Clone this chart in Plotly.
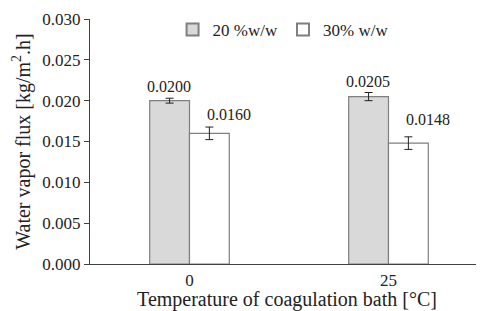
import plotly.graph_objects as go

categories = ["0", "25"]
series_names = ["20 %w/w", "30% w/w"]
values_20 = [0.0200, 0.0205]
values_30 = [0.0160, 0.0148]
errors_20 = [0.0003, 0.0005]
errors_30 = [0.00077, 0.00077]
label_20 = ["0.0200", "0.0205"]
label_30 = ["0.0160", "0.0148"]
y_ticks = [0.000, 0.005, 0.010, 0.015, 0.020, 0.025, 0.030]

FONT = "Liberation Serif, Times New Roman, serif"
TXT = "#222222"

fig = go.Figure()
fig.add_trace(go.Bar(
    x=categories, y=values_20, name=series_names[0],
    marker=dict(color="#d9d9d9", line=dict(color="#7f7f7f", width=1.2)),
    error_y=dict(type="data", array=errors_20, color=TXT, thickness=1, width=4),
))
fig.add_trace(go.Bar(
    x=categories, y=values_30, name=series_names[1],
    marker=dict(color="#ffffff", line=dict(color="#7f7f7f", width=1.2)),
    error_y=dict(type="data", array=errors_30, color=TXT, thickness=1, width=4),
))

label30_yshift = [2, 7]
annotations = []
for i, c in enumerate(categories):
    annotations.append(dict(x=i, y=values_20[i] + errors_20[i], text=label_20[i],
                            xref="x", yref="y", xshift=-20, yshift=1, yanchor="bottom",
                            showarrow=False, font=dict(family=FONT, size=16, color=TXT)))
    annotations.append(dict(x=i, y=values_30[i] + errors_30[i], text=label_30[i],
                            xref="x", yref="y", xshift=40, yshift=label30_yshift[i],
                            yanchor="bottom",
                            showarrow=False, font=dict(family=FONT, size=16, color=TXT)))

# page body has an 8px margin, so the figure is sized to fit within the window
fig.update_layout(
    width=476, height=303,
    margin=dict(l=82, r=0, t=11, b=47),
    paper_bgcolor="white", plot_bgcolor="white",
    barmode="group", bargap=0.6, bargroupgap=0,
    font=dict(family=FONT, size=17, color=TXT),
    showlegend=True,
    legend=dict(orientation="h", x=0.49, xanchor="center", y=0.955, yanchor="middle",
                font=dict(family=FONT, size=17, color=TXT),
                itemwidth=30, itemsizing="constant", bgcolor="rgba(0,0,0,0)",
                traceorder="normal"),
    annotations=annotations,
    xaxis=dict(
        type="category", range=[-0.5, 1.48], automargin=False,
        showline=True, linecolor="#404040", linewidth=1.2,
        ticks="", showgrid=False,
        tickfont=dict(family=FONT, size=17, color=TXT),
        title=dict(text="Temperature of coagulation bath [°C]",
                   font=dict(family=FONT, size=20, color=TXT), standoff=0),
    ),
    yaxis=dict(
        range=[0, 0.030], tickvals=y_ticks, tickformat=".3f", automargin=False,
        showline=True, linecolor="#404040", linewidth=1.2,
        ticks="outside", ticklen=5, tickcolor="#404040",
        showgrid=False, zeroline=False,
        tickfont=dict(family=FONT, size=17, color=TXT),
        title=dict(text="Water vapor flux [kg/m<sup>2</sup>.h]",
                   font=dict(family=FONT, size=20, color=TXT), standoff=6),
    ),
)

fig.write_html("out.html")
